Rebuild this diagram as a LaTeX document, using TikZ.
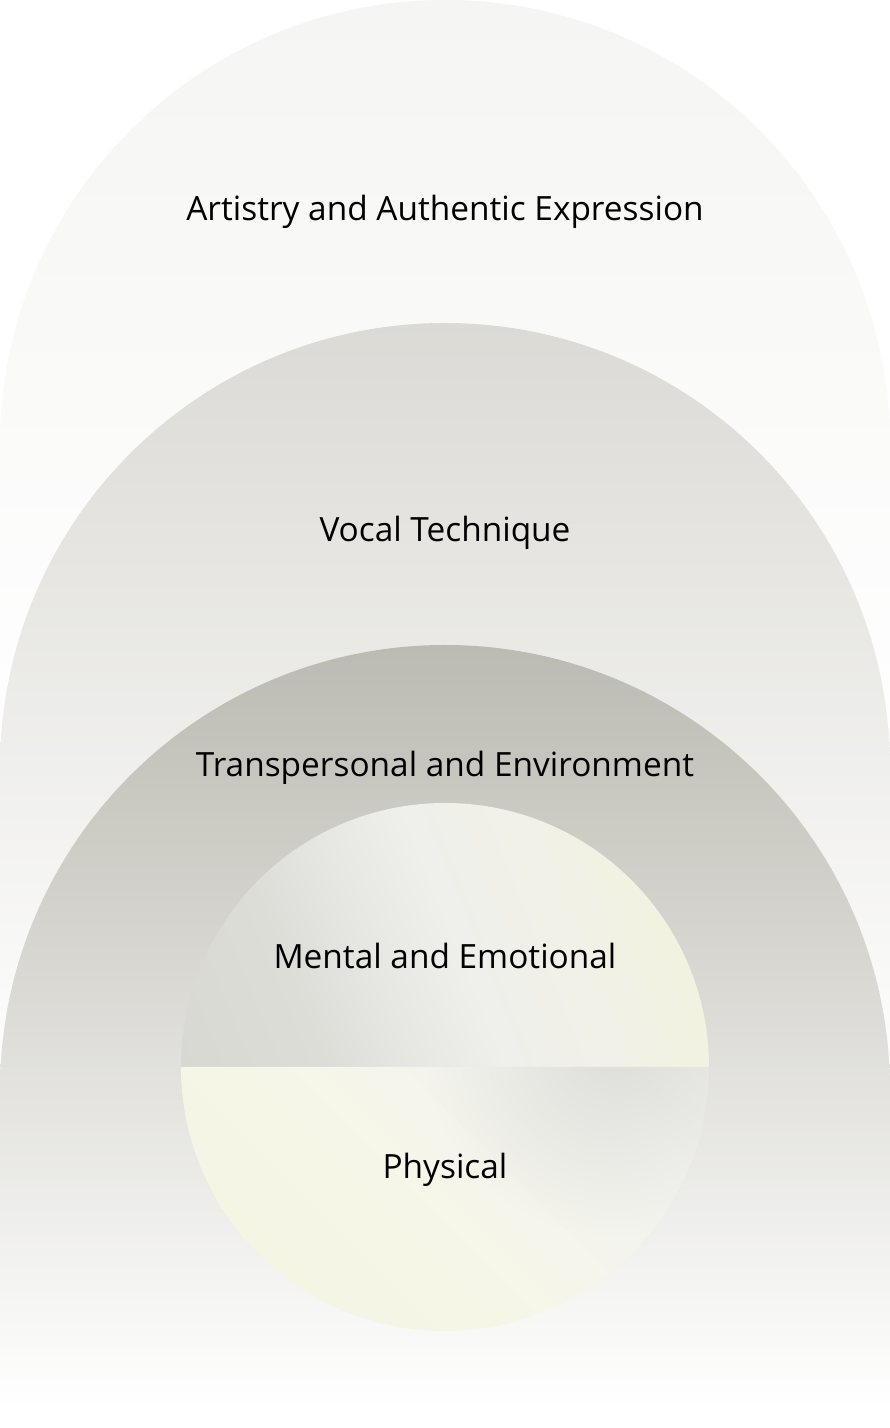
\documentclass[tikz,border=0pt]{standalone}
\usepackage{fontspec}
\setmainfont{Open Sans}
\usetikzlibrary{fadings}
\tikzfading[name=spotfade, inner color=transparent!0, outer color=transparent!100]
\definecolor{outerTop}{HTML}{F5F5F3}
\definecolor{midTop}{HTML}{DBDAD5}
\definecolor{innTop}{HTML}{BCBBB2}
\definecolor{mA}{HTML}{D8D8D3}
\definecolor{mB}{HTML}{DDDDD8}
\definecolor{mC}{HTML}{E6E6E2}
\definecolor{mD}{HTML}{EFEFEB}
\definecolor{mE}{HTML}{F1F1E8}
\definecolor{mF}{HTML}{F2F2E0}
\definecolor{pA}{HTML}{F5F5E4}
\definecolor{pB}{HTML}{F6F6E8}
\definecolor{pC}{HTML}{F4F4EE}
\definecolor{pD}{HTML}{F3F3F0}
\definecolor{pE}{HTML}{EDEDEA}
\definecolor{greySpot}{HTML}{DEDED9}
\pgfdeclarehorizontalshading{mentalshade}{100bp}{color(0bp)=(mA); color(27.3bp)=(mA); color(39.8bp)=(mB); color(47.2bp)=(mC); color(55.5bp)=(mD); color(64.5bp)=(mE); color(74.4bp)=(mF); color(100bp)=(mF)}
\pgfdeclarehorizontalshading{physshade}{100bp}{color(0bp)=(pA); color(25.5bp)=(pA); color(38.9bp)=(pB); color(50bp)=(pC); color(59.3bp)=(pD); color(68.5bp)=(pE); color(100bp)=(pE)}
\tikzset{
  lbl/.style={font=\fontsize{33.4}{40}\selectfont, text=black, anchor=base, inner sep=0pt},
  arch/.style={draw=none}
}
\begin{document}
\begin{tikzpicture}[x=1pt,y=1pt]
\useasboundingbox (0,0) rectangle (890,1428);
\fill[white] (0,0) rectangle (890,1428);
% outer arch: top py=0, centre py=445
\shade[arch, top color=outerTop, bottom color=white]
  (0,648) -- (0,983) arc[start angle=180,end angle=0,radius=445] -- (890,648) -- cycle;
% middle arch: top py=323, centre py=768
\shade[arch, top color=midTop, bottom color=white]
  (0,325) -- (0,660) arc[start angle=180,end angle=0,radius=445] -- (890,325) -- cycle;
% inner arch: top py=645, centre py=1090
\shade[arch, top color=innTop, bottom color=white]
  (0,20) -- (0,338) arc[start angle=180,end angle=0,radius=445] -- (890,20) -- cycle;
% circle centre py=1067 -> Y=361, r=264
\coordinate (cc) at (445,361);
\begin{scope}
  \clip (181,361) arc[start angle=180,end angle=0,radius=264] -- cycle;
  \begin{scope}[transform canvas={rotate around={22:(cc)}}]
    \shade[shading=mentalshade] (175,61) rectangle (715,661);
  \end{scope}
\end{scope}
\begin{scope}
  \clip (181,361) arc[start angle=180,end angle=360,radius=264] -- cycle;
  \begin{scope}[transform canvas={rotate around={45:(cc)}}]
    \shade[shading=physshade] (175,61) rectangle (715,661);
  \end{scope}
  \fill[greySpot, path fading=spotfade] (615,383) circle[radius=190];
\end{scope}
\node[lbl] (artistry) at (445,1207) {Artistry and Authentic Expression};
\node[lbl] (vocal) at (445,886) {Vocal Technique};
\node[lbl] (transp) at (445,651) {Transpersonal and Environment};
\node[lbl] (mental) at (445,459) {Mental and Emotional};
\node[lbl] (physical) at (445,249) {Physical};
\end{tikzpicture}
\end{document}
